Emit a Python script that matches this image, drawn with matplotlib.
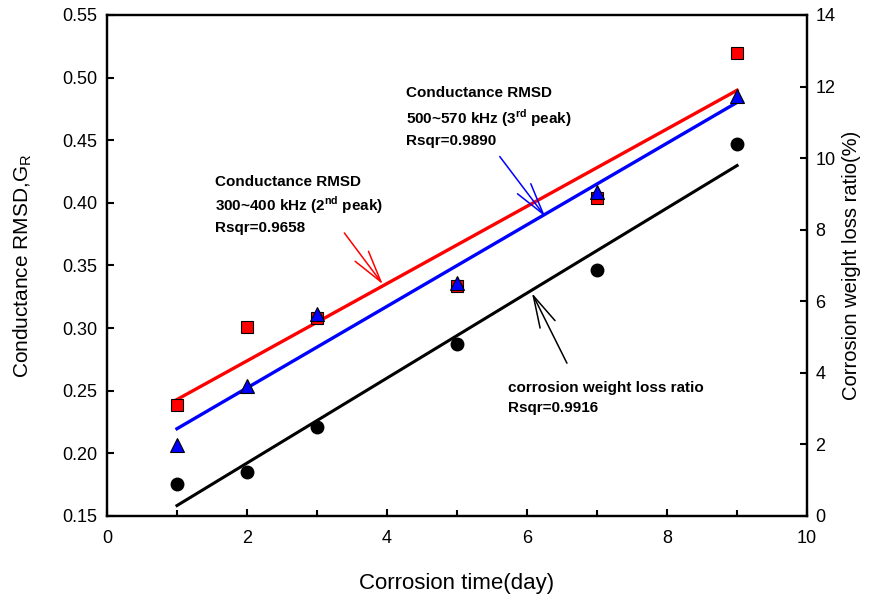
import numpy as np
import matplotlib.pyplot as plt
from matplotlib.ticker import MultipleLocator

plt.rcParams['font.family'] = ['Liberation Sans', 'DejaVu Sans']
plt.rcParams['mathtext.fontset'] = 'custom'
plt.rcParams['mathtext.rm'] = 'Liberation Sans'
plt.rcParams['mathtext.bf'] = 'Liberation Sans:bold'

# corrosion time (day)
days = [1, 2, 3, 5, 7, 9]
# conductance RMSD, 300~400 kHz (2nd peak)
rmsd_2nd = [0.239, 0.301, 0.308, 0.334, 0.404, 0.520]
# conductance RMSD, 500~570 kHz (3rd peak)
rmsd_3rd = [0.207, 0.254, 0.311, 0.336, 0.409, 0.485]
# corrosion weight loss ratio (%)
weight_loss = [0.9, 1.23, 2.49, 4.8, 6.87, 10.4]

fig = plt.figure(figsize=(8.84, 5.95), dpi=100)
ax = fig.add_axes([0.121, 0.1328, 0.792, 0.842])
ax2 = ax.twinx()

x = np.array(days)
xfit = np.array([1, 9])

# right axis first, left axis drawn on top
ax2.plot(xfit, np.polyval(np.polyfit(x, weight_loss, 1), xfit), color='black', lw=2.2)
ax2.plot(days, weight_loss, 'o', color='black', ms=9)

ax.plot(xfit, np.polyval(np.polyfit(x, rmsd_2nd, 1), xfit), color='red', lw=2.4, zorder=3)
ax.plot(xfit, np.polyval(np.polyfit(x, rmsd_3rd, 1), xfit), color='blue', lw=2.4, zorder=3)
ax.plot(days, rmsd_2nd, 's', color='red', mec='black', mew=0.8, ms=9, zorder=4)
ax.plot(days, rmsd_3rd, '^', color='blue', mec='black', mew=0.8, ms=9.5, zorder=5)
ax.set_zorder(ax2.get_zorder() + 1)
ax.patch.set_visible(False)

ax.set_xlim(0, 10)
ax.set_ylim(0.15, 0.55)
ax2.set_ylim(0, 14)
ax.xaxis.set_major_locator(MultipleLocator(2))
ax.xaxis.set_minor_locator(MultipleLocator(1))
ax.yaxis.set_major_locator(MultipleLocator(0.05))
ax2.yaxis.set_major_locator(MultipleLocator(2))
ax.yaxis.set_major_formatter(plt.FormatStrFormatter('%.2f'))

ax.tick_params(axis='both', which='both', direction='in', labelsize=13, width=1.5, top=False)
ax.tick_params(which='major', length=5)
ax.tick_params(which='minor', length=4)
ax.tick_params(axis='x', pad=10)
ax.tick_params(axis='y', pad=7)
ax2.tick_params(direction='in', labelsize=13, width=1.5, length=5, pad=6)
for a in (ax, ax2):
    for s in a.spines.values():
        s.set_linewidth(1.6)

ax.set_xlabel('Corrosion time(day)', fontsize=16, va='center')
ax.xaxis.set_label_coords(0.5, -0.134)
ax.set_ylabel(r'Conductance RMSD,G$_\mathrm{R}$', fontsize=15, ha='center', va='center')
ax.yaxis.set_label_coords(-0.121, 0.5)
ax2.set_ylabel('Corrosion weight loss ratio(%)', fontsize=14.5, ha='center', va='center')
ax2.yaxis.set_label_coords(1.063, 0.5)

tk = dict(fontsize=11, fontweight='bold', va='center', ha='left')
ax.text(1.54, 0.4167, 'Conductance RMSD', **tk)
ax.text(1.54, 0.3983, r'300~400 kHz (2$^{\mathbf{nd}}$ peak)', **tk)
ax.text(1.54, 0.380, 'Rsqr=0.9658', **tk)

ax.text(4.27, 0.4877, 'Conductance RMSD', **tk)
ax.text(4.27, 0.4678, r'500~570 kHz (3$^{\mathbf{rd}}$ peak)', **tk)
ax.text(4.27, 0.4494, 'Rsqr=0.9890', **tk)

ax.text(5.73, 0.2522, 'corrosion weight loss ratio', **tk)
ax.text(5.73, 0.2362, 'Rsqr=0.9916', **tk)

arrow = '->,head_length=2.3,head_width=0.6'
ax.annotate('', xy=(3.94, 0.335), xytext=(3.39, 0.376),
            arrowprops=dict(arrowstyle=arrow, color='red', lw=1.1, shrinkA=0, shrinkB=0))
ax.annotate('', xy=(6.26, 0.389), xytext=(5.61, 0.437),
            arrowprops=dict(arrowstyle=arrow, color='blue', lw=1.1, shrinkA=0, shrinkB=0))
ax.annotate('', xy=(6.07, 0.328), xytext=(6.57, 0.272),
            arrowprops=dict(arrowstyle=arrow, color='black', lw=1.1, shrinkA=0, shrinkB=0))

fig.savefig('out.png', dpi=100)
